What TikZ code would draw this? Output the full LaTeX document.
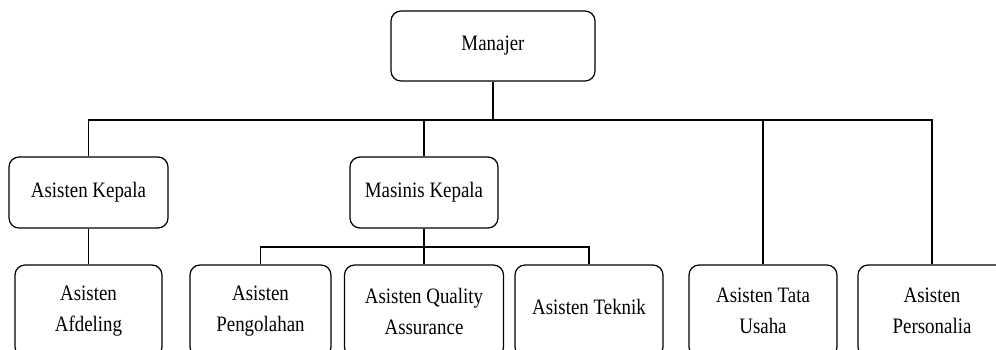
\documentclass[tikz,border=0pt]{standalone}
\usepackage{fontspec}
\setmainfont[FakeStretch=0.86]{Liberation Serif}
\usepackage{tikz}
\usetikzlibrary{
  positioning,
  calc
}
\definecolor{inkblack}{RGB}{0,0,0}

\begin{document}
\begin{tikzpicture}[x=1pt, y=-1pt, line width=1.2pt,
    every node/.style={font=\fontsize{22}{31}\selectfont, align=center},
    jabatan/.style={draw=inkblack, rounded corners=10pt, inner sep=0pt}]
            \clip (0,0) rectangle (996,349);
            % Top box
            \node[jabatan, minimum width=204, minimum height=70] (man) at (493,46) {Manajer};
            
            % Second row
            \node[jabatan, minimum width=159, minimum height=71] (kep) at (88.5,192.5) {Asisten Kepala};
            \node[jabatan, minimum width=148, minimum height=71] (mas) at (424,192.5) {Masinis Kepala};
            
            % Bottom row
            \node[jabatan, minimum width=147, minimum height=92] (afd) at (88.5,311) {Asisten\\Afdeling};
            \node[jabatan, minimum width=141, minimum height=92] (peng) at (260.5,311) {Asisten\\Pengolahan};
            \node[jabatan, minimum width=159, minimum height=92] (qa) at (424,311) {Asisten Quality\\Assurance};
            \node[jabatan, minimum width=148, minimum height=92] (tek) at (589,311) {\raisebox{8pt}{Asisten Teknik}};
            \node[jabatan, minimum width=148, minimum height=92] (tata) at (763,311) {Asisten Tata\\Usaha};
            \node[jabatan, minimum width=148, minimum height=92] (pers) at (932,311) {Asisten\\Personalia};
            
            % Lines
            \coordinate (bus) at (493,120);
            \coordinate (sub) at (424,247);
            \draw (man.south) -- (bus);
            \draw (kep.north) |- (bus) -| (pers.north);
            \draw (mas.north) -- (mas.north |- bus);
            \draw (tata.north) -- (tata.north |- bus);
            \draw (kep.south) -- (afd.north);
            \draw (mas.south) -- (qa.north);
            \draw (peng.north) |- (sub) -| (tek.north);
        \end{tikzpicture}
\end{document}
